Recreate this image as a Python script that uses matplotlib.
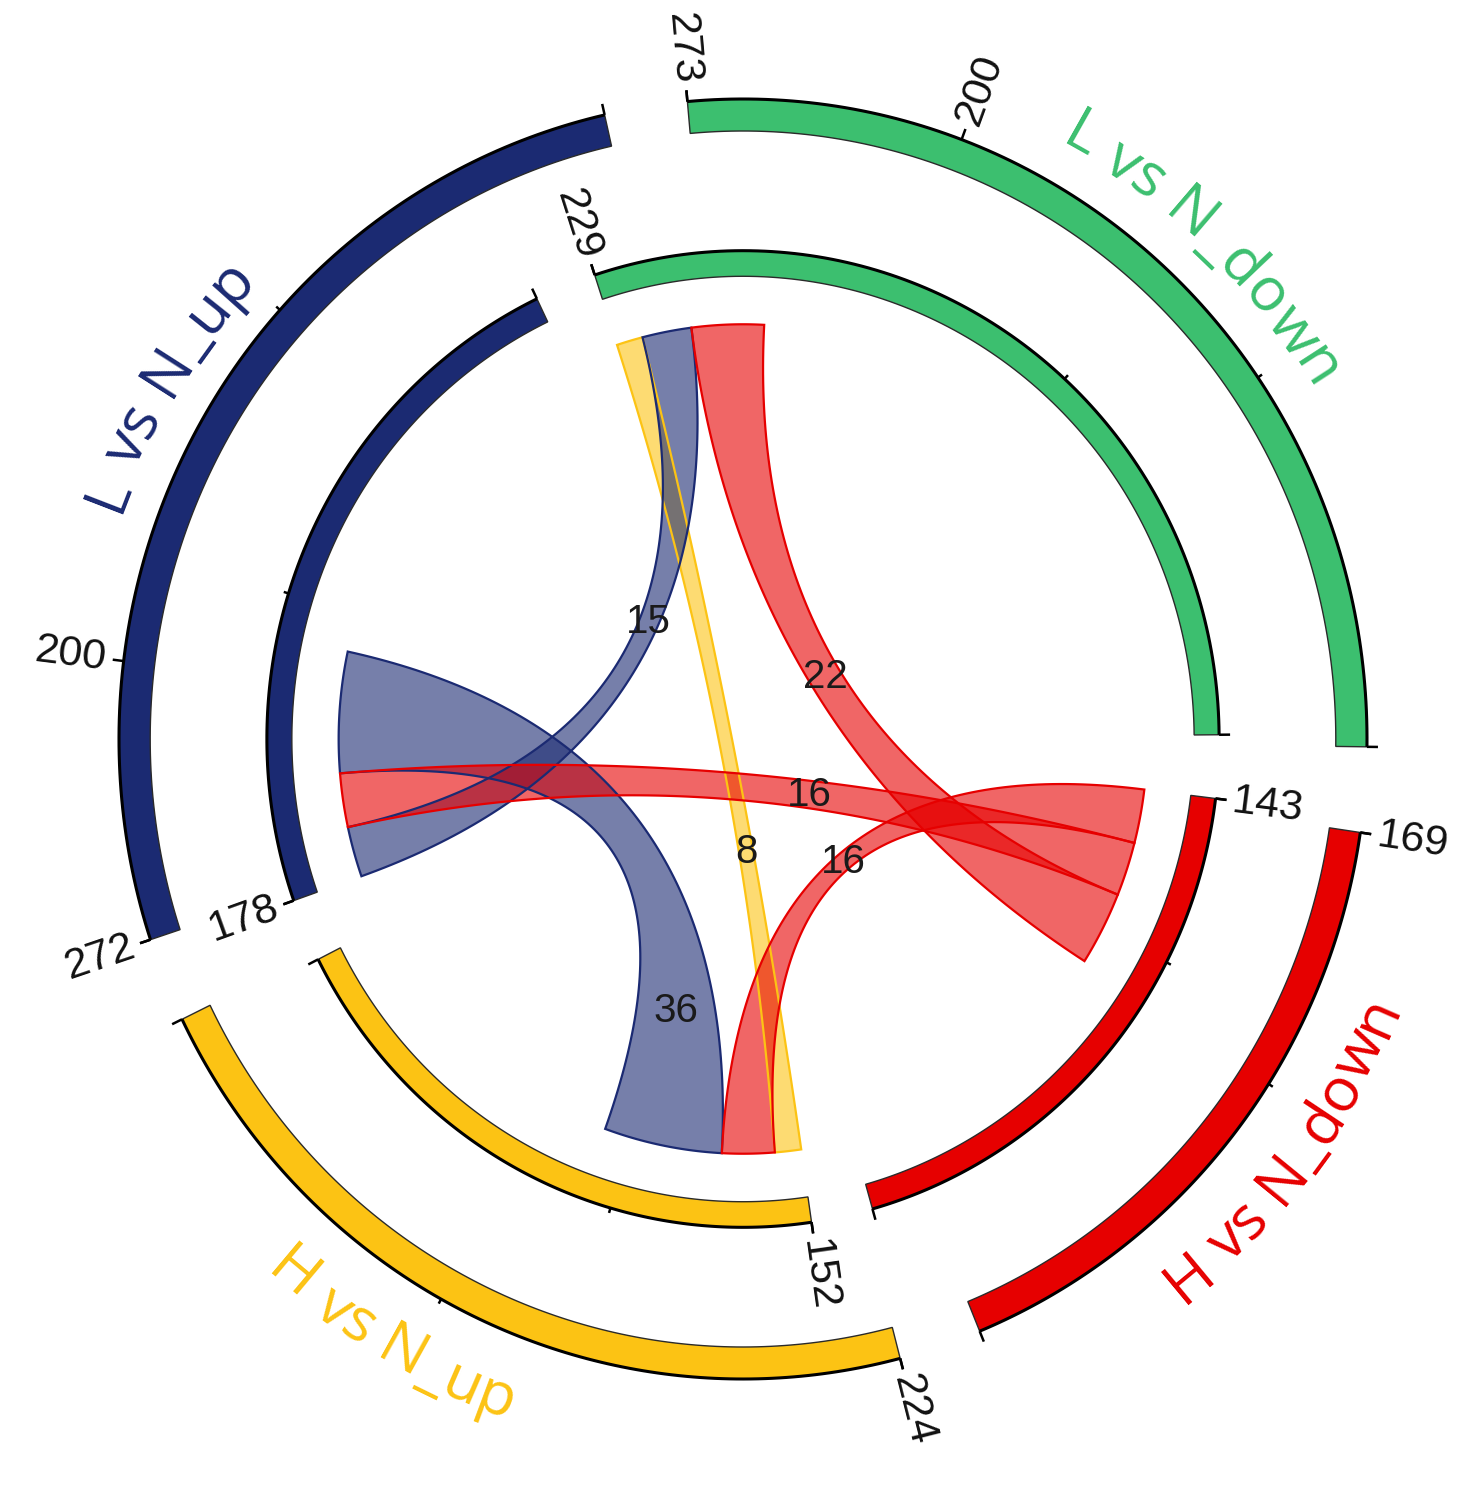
import numpy as np
import matplotlib
matplotlib.use("Agg")
import matplotlib.pyplot as plt
from matplotlib.patches import Polygon
from matplotlib import font_manager
from matplotlib.ft2font import FT2Font

# ---------------- data ----------------
sectors = ["L vs N_down", "L vs N_up", "H vs N_up", "H vs N_down"]
outer_sizes = [273, 272, 224, 169]
inner_sizes = [229, 178, 152, 143]
sector_colors = ["#3CBF6F", "#1B2A72", "#FCC314", "#E60000"]

# labelled ticks on each ring
outer_tick_labels = [[200, 273], [200, 272], [224], [169]]
inner_tick_labels = [[229], [178], [152], [143]]
minor_tick = 100

# links: sector A [start, start+value] <-> sector B [start, start+value]
link_values = [8, 15, 22, 36, 16, 16]
link_a_sector = [0, 0, 0, 1, 1, 2]
link_a_start = [221, 206, 184, 111, 147, 128]
link_b_sector = [2, 1, 3, 2, 3, 3]
link_b_start = [144, 163, 89, 92, 111, 127]
link_color_sector = [2, 1, 3, 1, 3, 3]
link_label_t = [0.635, 0.42, 0.49, 0.82, 0.59, 0.5]

# ---------------- geometry / style ----------------
W, H = 1476, 1493
CX, CY = 743, 739
SX, SY = 624.0, 640.0

R_OUT = (0.950, 1.0)
R_IN = (0.723, 0.763)
R_RIB = 0.648

OUT_START, OUT_GAP = -0.7, 7.7
IN_START, IN_GAP = 0.5, 7.5


def layout(sizes, start, gap):
    unit = (360.0 - gap * len(sizes)) / sum(sizes)
    starts = []
    a = start
    for s in sizes:
        starts.append(a)
        a += s * unit + gap
    return starts, unit


out_starts, out_unit = layout(outer_sizes, OUT_START, OUT_GAP)
in_starts, in_unit = layout(inner_sizes, IN_START, IN_GAP)


def xy(theta, r):
    t = np.radians(theta)
    return np.array([r * np.cos(t), r * np.sin(t)])


def arc(t1, t2, r, n=120):
    t = np.radians(np.linspace(t1, t2, n))
    return np.column_stack([r * np.cos(t), r * np.sin(t)])


def screen_angle(theta):
    t = np.radians(theta)
    return np.degrees(np.arctan2(np.sin(t) * SY, np.cos(t) * SX))


fig = plt.figure(figsize=(W / 100, H / 100), dpi=100)
ax = fig.add_axes([0, 0, 1, 1])
ax.set_xlim(-CX / SX, (W - CX) / SX)
ax.set_ylim(-(H - CY) / SY, CY / SY)
ax.axis("off")

TICK_FONT = ["Liberation Sans", "DejaVu Sans"]


def draw_ring(sizes, starts, unit, radii, tick_labels, label_fs):
    r0, r1 = radii
    for i, s in enumerate(sizes):
        a0 = starts[i]
        a1 = a0 + s * unit
        pts = np.vstack([arc(a0, a1, r1), arc(a1, a0, r0)])
        ax.add_patch(Polygon(pts, closed=True, facecolor=sector_colors[i],
                             edgecolor="#2a2a2a", lw=1.0, zorder=3))
        o = arc(a0, a1, r1)
        ax.plot(o[:, 0], o[:, 1], color="black", lw=2.2, zorder=4,
                solid_capstyle="butt")
        # ticks: sector ends, labelled ticks, one small tick at 100
        big_ticks = [0, s] + list(tick_labels[i])
        small_ticks = [minor_tick] if s > minor_tick else []
        for v in big_ticks + small_ticks:
            th = a0 + v * unit
            L = 11 / SX if v in big_ticks else 5 / SX
            p1, p2 = xy(th, r1), xy(th, r1 + L)
            ax.plot([p1[0], p2[0]], [p1[1], p2[1]], color="black",
                    lw=1.8, zorder=4, solid_capstyle="butt")
        for v in tick_labels[i]:
            th = a0 + v * unit
            phi = screen_angle(th)
            p = xy(th, r1 + 17 / SX)
            if np.cos(np.radians(th)) >= 0:
                rot, ha = phi, "left"
            else:
                rot, ha = phi + 180, "right"
            ax.text(p[0], p[1], str(v), rotation=rot, ha=ha, va="center",
                    rotation_mode="anchor", fontsize=label_fs,
                    family=TICK_FONT, color="#111111", zorder=6)


draw_ring(outer_sizes, out_starts, out_unit, R_OUT, outer_tick_labels, 31)
draw_ring(inner_sizes, in_starts, in_unit, R_IN, inner_tick_labels, 31)


# ---------------- links ----------------
def bez(p0, p2, n=100):
    t = np.linspace(0, 1, n)[:, None]
    return (1 - t) ** 2 * p0 + t ** 2 * p2


for k, v in enumerate(link_values):
    sa, sb = link_a_sector[k], link_b_sector[k]
    a1 = in_starts[sa] + link_a_start[k] * in_unit
    a2 = in_starts[sa] + (link_a_start[k] + v) * in_unit
    b1 = in_starts[sb] + link_b_start[k] * in_unit
    b2 = in_starts[sb] + (link_b_start[k] + v) * in_unit
    pts = np.vstack([
        arc(a1, a2, R_RIB, 30),
        bez(xy(a2, R_RIB), xy(b1, R_RIB)),
        arc(b1, b2, R_RIB, 30),
        bez(xy(b2, R_RIB), xy(a1, R_RIB)),
    ])
    col = sector_colors[link_color_sector[k]]
    ax.add_patch(Polygon(pts, closed=True, facecolor=col, alpha=0.6,
                         edgecolor="none", zorder=2))
    ax.add_patch(Polygon(pts, closed=True, facecolor="none",
                         edgecolor=col, lw=1.6, zorder=2.5))
    # label
    pa = xy((a1 + a2) / 2, R_RIB)
    pb = xy((b1 + b2) / 2, R_RIB)
    t = link_label_t[k]
    pl = (1 - t) ** 2 * pa + t ** 2 * pb
    ax.text(pl[0], pl[1], str(v), ha="center", va="center", fontsize=29,
            family=TICK_FONT, color="#1a1a1a", zorder=7)

# ---------------- sector names along the arc ----------------
NAME_FS = 44
name_angles = [46, 149, 239, 323.5]
fp = font_manager.FontProperties(family="Open Sans", size=NAME_FS)
ft = FT2Font(font_manager.findfont(fp))
ft.set_size(NAME_FS, 72)


def advance(c):
    g = ft.load_char(ord(c))
    try:
        return g.linearHoriAdvance / 65536.0
    except AttributeError:
        return g.horiAdvance / 64.0


for i, name in enumerate(sectors):
    advs = [advance(c) for c in name]
    total = sum(advs)
    theta_c = name_angles[i]
    top = np.sin(np.radians(theta_c)) > 0
    r_base = 1.061 if top else 1.131
    cum = 0.0
    for c, a in zip(name, advs):
        off_px = (cum + a / 2 - total / 2) * 100 / 72
        cum += a
        dth = np.degrees(off_px / (r_base * SX))
        th = theta_c - dth if top else theta_c + dth
        phi = screen_angle(th)
        rot = phi - 90 if top else phi + 90
        p = xy(th, r_base)
        ax.text(p[0], p[1], c, rotation=rot, ha="center", va="baseline",
                rotation_mode="anchor", fontsize=NAME_FS, family="Open Sans",
                color=sector_colors[i], zorder=6)

fig.savefig("out.png", dpi=100)
